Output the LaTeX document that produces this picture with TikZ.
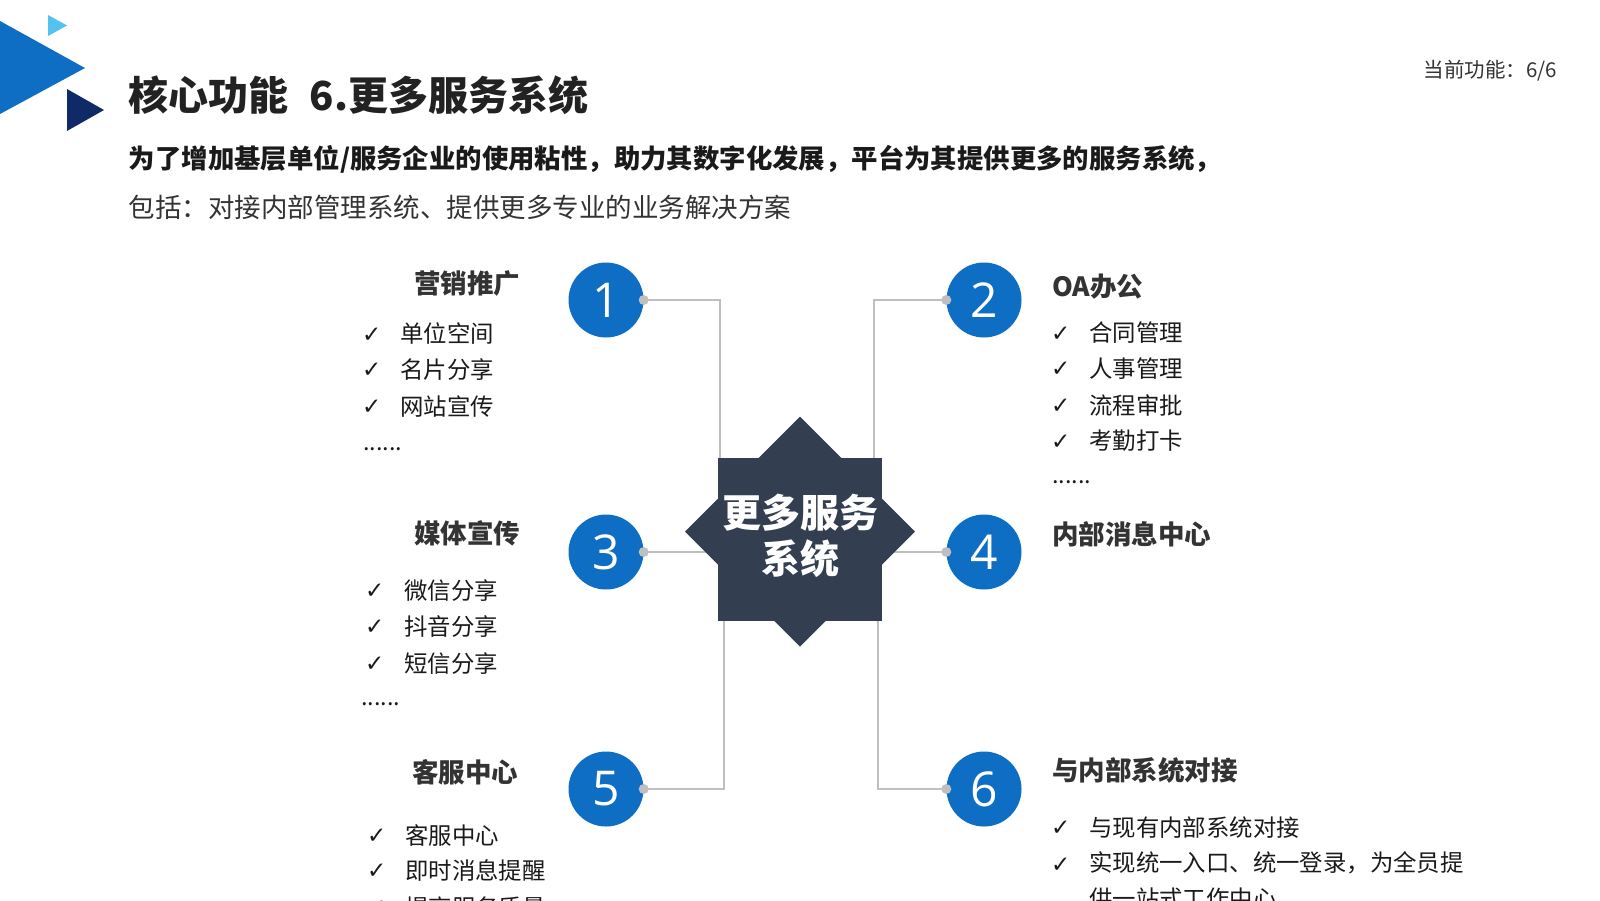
\documentclass[tikz,border=0pt]{standalone}
\usepackage{fontspec}
\setmainfont{Noto Sans CJK SC}
\newfontfamily\numfont{Open Sans}
\newfontfamily\chkfont{DejaVu Sans}
\definecolor{cblue}{HTML}{0E6EC4}
\definecolor{lblue}{HTML}{55C1EF}
\definecolor{navy}{HTML}{0F2A66}
\definecolor{slate}{HTML}{333F50}
\definecolor{lgray}{HTML}{BFBFBF}
\definecolor{titlec}{HTML}{222222}
\definecolor{headc}{HTML}{333333}
\definecolor{itemc}{HTML}{1A1A1A}
\tikzset{
 conn/.style={draw=lgray, line width=2pt},
 numc/.style={circle, fill=cblue, minimum size=75pt, inner sep=0pt, text=white, font=\numfont\fontsize{48}{48}\selectfont},
 dotn/.style={circle, fill=lgray, minimum size=10pt, inner sep=0pt},
 txtn/.style={anchor=base west, inner sep=0pt},
 head/.style={txtn, text=headc, font=\bfseries\fontsize{26.5}{30}\selectfont},
 item/.style={txtn, text=itemc, font=\fontsize{23.4}{36.7}\selectfont, align=left},
 chk/.style={txtn, text=itemc, font=\chkfont\fontsize{23}{23}\selectfont},
 hubtext/.style={anchor=base, inner sep=0pt, text=white, font=\bfseries\fontsize{39}{45}\selectfont},
}
\begin{document}
\begin{tikzpicture}[x=1pt,y=-1pt]
\useasboundingbox (0,0) rectangle (1600,900);
\clip (0,0) rectangle (1600,900);
\fill[white] (0,0) rectangle (1600,900);

% corner triangles
\fill[cblue] (0,21) -- (85,68) -- (0,114) -- cycle;
\fill[lblue] (48,15) -- (67,25.5) -- (48,36) -- cycle;
\fill[navy] (67,89) -- (104,110) -- (67,131) -- cycle;

% header texts
\node[txtn, text=titlec, font=\bfseries\fontsize{40}{42}\selectfont] (title) at (128.6,110) {核心功能\hspace{21pt}6.更多服务系统};
\node[txtn, text=headc, font=\fontsize{20.5}{22}\selectfont] (page) at (1423.5,77) {当前功能：6/6};
\node[txtn, text=itemc, font=\bfseries\fontsize{26.4}{30}\selectfont] (sub1) at (128.6,168) {为了增加基层单位/服务企业的使用粘性，助力其数字化发展，平台为其提供更多的服务系统，};
\node[txtn, text=headc, font=\fontsize{26.5}{30}\selectfont] (sub2) at (128.6,217) {包括：对接内部管理系统、提供更多专业的业务解决方案};

% numbered circles
\node[numc] (c1) at (606,300) {1};
\node[numc] (c2) at (984,300) {2};
\node[numc] (c3) at (606,552) {3};
\node[numc] (c4) at (984,552) {4};
\node[numc] (c5) at (606,789) {5};
\node[numc] (c6) at (984,789) {6};

% connector bends
\coordinate (b1) at (720,300);  \coordinate (e1) at (720,540);
\coordinate (b2) at (874,300);  \coordinate (e2) at (874,540);
\coordinate (e3) at (800,552);
\coordinate (e4) at (800,552);
\coordinate (b5) at (724,789);  \coordinate (e5) at (724,540);
\coordinate (b6) at (878,789);  \coordinate (e6) at (878,540);
\draw[conn] (c1.east) -- (b1) -- (e1);
\draw[conn] (c2.west) -- (b2) -- (e2);
\draw[conn] (c3.east) -- (e3);
\draw[conn] (c4.west) -- (e4);
\draw[conn] (c5.east) -- (b5) -- (e5);
\draw[conn] (c6.west) -- (b6) -- (e6);

% central star
\fill[slate] (718.3,458.3) rectangle (881.7,620.7);
\fill[slate] (800,416.7) -- (915,531.7) -- (800,646.7) -- (685,531.7) -- cycle;
\node[hubtext] (hubA) at (800,527) {更多服务};
\node[hubtext] (hubB) at (800,573) {系统};

% connector dots
\node[dotn] (d1) at (c1.east) {};
\node[dotn] (d2) at (c2.west) {};
\node[dotn] (d3) at (c3.east) {};
\node[dotn] (d4) at (c4.west) {};
\node[dotn] (d5) at (c5.east) {};
\node[dotn] (d6) at (c6.west) {};

% block 1
\node[head] (h1) at (414,293) {营销推广};
\node[chk] (k11) at (362,342) {✓};
\node[item] (i11) at (400,342.6) {单位空间};
\node[chk] (k12) at (362,377.7) {✓};
\node[item] (i12) at (400,378.3) {名片分享};
\node[chk] (k13) at (362,414.4) {✓};
\node[item] (i13) at (400,415) {网站宣传};
\node[item] (m1) at (363,450) {......};

% block 3
\node[head] (h3) at (414,543) {媒体宣传};
\node[chk] (k31) at (365,598.4) {✓};
\node[item] (i31) at (404,599) {微信分享};
\node[chk] (k32) at (365,634.8) {✓};
\node[item] (i32) at (404,635.4) {抖音分享};
\node[chk] (k33) at (365,671.4) {✓};
\node[item] (i33) at (404,672) {短信分享};
\node[item] (m3) at (361,705) {......};

% block 5
\node[head] (h5) at (412,782.5) {客服中心};
\node[chk] (k51) at (367,843.4) {✓};
\node[item] (i51) at (405,844) {客服中心};
\node[chk] (k52) at (367,878.8) {✓};
\node[item] (i52) at (405,879.4) {即时消息提醒};
\node[chk] (k53) at (367,915.4) {✓};
\node[item] (i53) at (405,916) {提高服务质量};

% block 2
\node[head] (h2) at (1052,296) {OA办公};
\node[chk] (k21) at (1051,341) {✓};
\node[item] (i21) at (1089,341.6) {合同管理};
\node[chk] (k22) at (1051,376.7) {✓};
\node[item] (i22) at (1089,377.3) {人事管理};
\node[chk] (k23) at (1051,413.4) {✓};
\node[item] (i23) at (1089,414) {流程审批};
\node[chk] (k24) at (1051,449.1) {✓};
\node[item] (i24) at (1089,449.7) {考勤打卡};
\node[item] (m2) at (1052,483) {......};

% block 4
\node[head] (h4) at (1052,544) {内部消息中心};

% block 6
\node[head] (h6) at (1052,780) {与内部系统对接};
\node[chk] (k61) at (1051,835.9) {✓};
\node[item] (i61) at (1089,836.5) {与现有内部系统对接};
\node[chk] (k62) at (1051,872.6) {✓};
\node[item, anchor=north west] (i62) at (1089,851) {实现统一入口、统一登录，为全员提\\供一站式工作中心};
\end{tikzpicture}
\end{document}
